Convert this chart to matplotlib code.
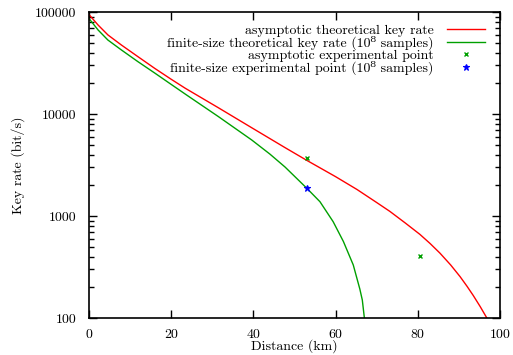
import matplotlib
matplotlib.use("Agg")
import matplotlib.pyplot as plt
from matplotlib.ticker import FixedLocator, FixedFormatter, LogLocator, NullFormatter

plt.rcParams['font.family'] = ['cmr10', 'DejaVu Serif']
plt.rcParams['mathtext.fontset'] = 'cm'
plt.rcParams['axes.formatter.use_mathtext'] = True
plt.rcParams['font.size'] = 10

# asymptotic theoretical key rate (km, bit/s)
asym_km = [0, 2.2, 4.6, 7.9, 11.9, 16.0, 20.0, 23.4, 31.5, 39.6, 47.7, 53.0,
           55.0, 60.0, 65.2, 70.0, 73.2, 77.0, 80.5, 83.0, 85.4, 88.0, 90.3,
           92.0, 93.5, 95.2, 96.8, 97.5]
asym_rate = [94400, 74600, 59600, 47400, 36500, 28000, 21900, 17900, 11500, 7330,
             4680, 3510, 3160, 2430, 1820, 1355, 1110, 851, 661, 537,
             432, 331, 254, 204, 166, 129, 100, 89]

# finite-size theoretical key rate (10^8 samples)
fin_km = [0, 2.2, 4.6, 7.9, 11.9, 16.0, 20.0, 23.7, 31.5, 39.6, 44.0, 47.7,
          53.0, 56.2, 59.4, 61.9, 64.3, 65.9, 66.5, 67.0, 67.2]
fin_rate = [86300, 66700, 53100, 42400, 32600, 25200, 19500, 15400, 9420, 5560,
            4050, 3020, 1870, 1380, 880, 562, 331, 192, 150, 100, 85]

# experimental points
asym_exp_km = [53.0, 80.5]
asym_exp_rate = [3680, 405]
fin_exp_km = [53.0]
fin_exp_rate = [1870]

x_ticks = [0, 20, 40, 60, 80, 100]
y_ticks = [100, 1000, 10000, 100000]
y_tick_labels = ['100', '1000', '10000', '100000']

fig = plt.figure(figsize=(5.13, 3.55), dpi=100)
ax = fig.add_axes([89/513, 1-318/355, 411/513, 306/355])

ax.plot(asym_km, asym_rate, color='#ff0000', lw=1.0,
        label='asymptotic theoretical key rate')
ax.plot(fin_km, fin_rate, color='#00a000', lw=1.0,
        label='finite-size theoretical key rate (10\u2078 samples)')
ax.plot(asym_exp_km, asym_exp_rate, ls='none', marker='x', ms=3, mew=1.0,
        color='#00a000', label='asymptotic experimental point')
ax.plot(fin_exp_km, fin_exp_rate, ls='none', marker='*', ms=5, mew=0.8,
        color='#0000ff', label='finite-size experimental point (10\u2078 samples)')

ax.set_yscale('log')
ax.set_xlim(0, 100)
ax.set_ylim(100, 100000)
ax.xaxis.set_major_locator(FixedLocator(x_ticks))
ax.yaxis.set_major_locator(FixedLocator(y_ticks))
ax.yaxis.set_major_formatter(FixedFormatter(y_tick_labels))
ax.yaxis.set_minor_locator(LogLocator(base=10, subs=range(2, 10)))
ax.yaxis.set_minor_formatter(NullFormatter())

ax.tick_params(which='both', direction='in', top=True, right=True)
ax.tick_params(which='major', length=6, width=1.0)
ax.tick_params(which='minor', length=3.5, width=1.0)
ax.tick_params(axis='y', which='major', pad=9)
ax.tick_params(axis='x', which='major', pad=7)
for s in ax.spines.values():
    s.set_linewidth(1.2)

ax.set_xlabel('Distance (km)', labelpad=-1)
ax.set_ylabel('Key rate (bit/s)', labelpad=7)

leg = ax.legend(loc='upper right', bbox_to_anchor=(0.9635, 0.96), frameon=False,
                markerfirst=False, handlelength=2.7, handletextpad=1.0,
                labelspacing=-0.08, borderpad=0, borderaxespad=0)

fig.savefig('out.png', dpi=100)
